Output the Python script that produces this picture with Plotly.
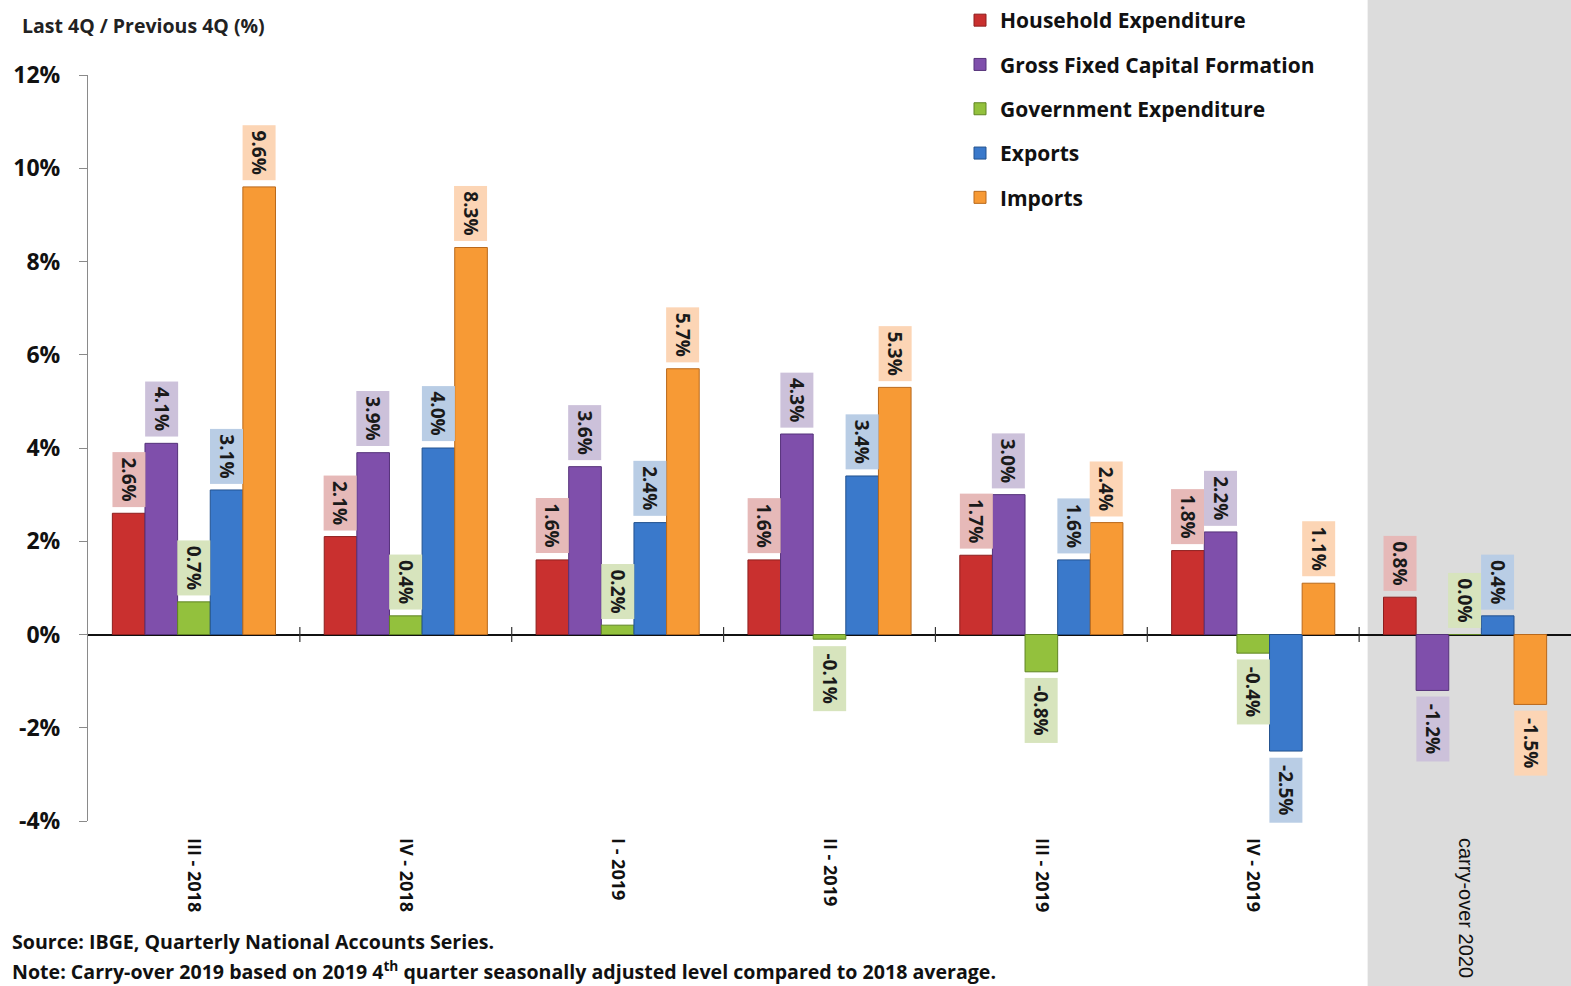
import plotly.graph_objects as go

categories = ["III - 2018", "IV - 2018", "I - 2019", "II - 2019", "III - 2019", "IV - 2019", "carry-over 2020"]
tick_labels = ["<b>III - 2018</b>", "<b>IV - 2018</b>", "<b>I - 2019</b>", "<b>II - 2019</b>",
               "<b>III - 2019</b>", "<b>IV - 2019</b>",
               "<span style='font-family:Liberation Sans;font-size:20px'>carry-over 2020</span>"]
series_names = ["Household Expenditure", "Gross Fixed Capital Formation", "Government Expenditure",
                "Exports", "Imports"]
household = [2.6, 2.1, 1.6, 1.6, 1.7, 1.8, 0.8]
gfcf = [4.1, 3.9, 3.6, 4.3, 3.0, 2.2, -1.2]
government = [0.7, 0.4, 0.2, -0.1, -0.8, -0.4, 0.0]
exports = [3.1, 4.0, 2.4, 3.4, 1.6, -2.5, 0.4]
imports = [9.6, 8.3, 5.7, 5.3, 2.4, 1.1, -1.5]
y_ticks = [-4, -2, 0, 2, 4, 6, 8, 10, 12]
y_tick_labels = ["-4%", "-2%", "0%", "2%", "4%", "6%", "8%", "10%", "12%"]

series_values = [household, gfcf, government, exports, imports]
bar_colors = ["#C9302F", "#7F4FAB", "#93C13D", "#3A79CB", "#F79A35"]
line_colors = ["#8E1F1E", "#55327A", "#5F8423", "#23528F", "#B9691C"]
label_bg = ["#E6B9B8", "#CCC1DA", "#D7E4BD", "#B9CDE5", "#FCD5B5"]

FONT = "Open Sans"
bargap = 0.23
bw = (1 - bargap) / 5

fig = go.Figure()
for k, (name, vals) in enumerate(zip(series_names, series_values)):
    fig.add_trace(go.Bar(
        x=categories, y=vals, name=name, legendgroup=name,
        marker=dict(color=bar_colors[k], line=dict(color=line_colors[k], width=1)),
    ))

annotations = []
for k, vals in enumerate(series_values):
    for i, v in enumerate(vals):
        txt = f"{v:.1f}%"
        pos = v >= 0
        annotations.append(dict(
            x=i + (k - 2) * bw, y=v, xref="x", yref="y",
            text=f"<b>{txt}</b>", showarrow=False, textangle=90,
            xanchor="center", yanchor="bottom" if pos else "top",
            yshift=6 if pos else -6,
            font=dict(family=FONT, size=19, color="#1a1a1a"),
            bgcolor=label_bg[k], borderpad=3, height=26,
            width=10 * len(txt) + 8,
        ))

# title & footnotes
annotations += [
    dict(x=-0.0459, y=1.0657, xref="paper", yref="paper", xanchor="left", yanchor="middle",
         text="<b>Last 4Q / Previous 4Q (%)</b>", showarrow=False,
         font=dict(family=FONT, size=19.5, color="#222")),
    dict(x=-0.0526, y=-0.162, xref="paper", yref="paper", xanchor="left", yanchor="middle",
         text="<b>Source: IBGE, Quarterly National Accounts Series.</b>", showarrow=False,
         font=dict(family=FONT, size=19.6, color="#111")),
    dict(x=-0.0526, y=-0.201, xref="paper", yref="paper", xanchor="left", yanchor="middle",
         text="<b>Note: Carry-over 2019 based on 2019 4<sup>th</sup> quarter seasonally adjusted level compared to 2018 average.</b>",
         showarrow=False, font=dict(family=FONT, size=19.6, color="#111")),
]

shapes = [
    dict(type="rect", xref="x", yref="paper", x0=5.54, x1=6.5, y0=-0.25, y1=1.15,
         fillcolor="#DCDCDC", line=dict(width=0), layer="below"),
]
for i in range(len(categories) - 1):
    shapes.append(dict(type="line", xref="x", yref="y", x0=i + 0.5, x1=i + 0.5, y0=-0.16, y1=0.16,
                       line=dict(color="#333", width=1.2)))

fig.update_layout(
    width=1571, height=986,
    margin=dict(l=88, r=0, t=75, b=165, autoexpand=False),
    paper_bgcolor="white", plot_bgcolor="rgba(0,0,0,0)",
    barmode="group", bargap=bargap, bargroupgap=0,
    font=dict(family=FONT, color="#111"),
    showlegend=True,
    legend=dict(x=0.588, y=1.0, xref="paper", yref="container", xanchor="left", yanchor="top",
                font=dict(family=FONT, size=21, color="#111", weight="bold"),
                tracegroupgap=14, traceorder="grouped", bgcolor="rgba(0,0,0,0)",
                itemwidth=30),
    annotations=annotations, shapes=shapes,
)
fig.update_xaxes(
    type="category", range=[-0.5, 6.5], showgrid=False, showline=False, ticks="",
    tickangle=90, tickfont=dict(family=FONT, size=18, color="#111"),
    tickvals=categories, ticktext=tick_labels, ticklabelstandoff=16, zeroline=False,
)
fig.update_yaxes(
    range=[-4, 12], tickvals=y_ticks, ticktext=y_tick_labels, showgrid=False,
    showline=True, linecolor="#8a8a8a", linewidth=1.2, ticks="outside", ticklen=8,
    tickcolor="#8a8a8a", tickfont=dict(family=FONT, size=23, color="#111", weight="bold"),
    zeroline=True, zerolinecolor="#111", zerolinewidth=1.5, ticklabelstandoff=14,
)

fig.write_html("out.html")
